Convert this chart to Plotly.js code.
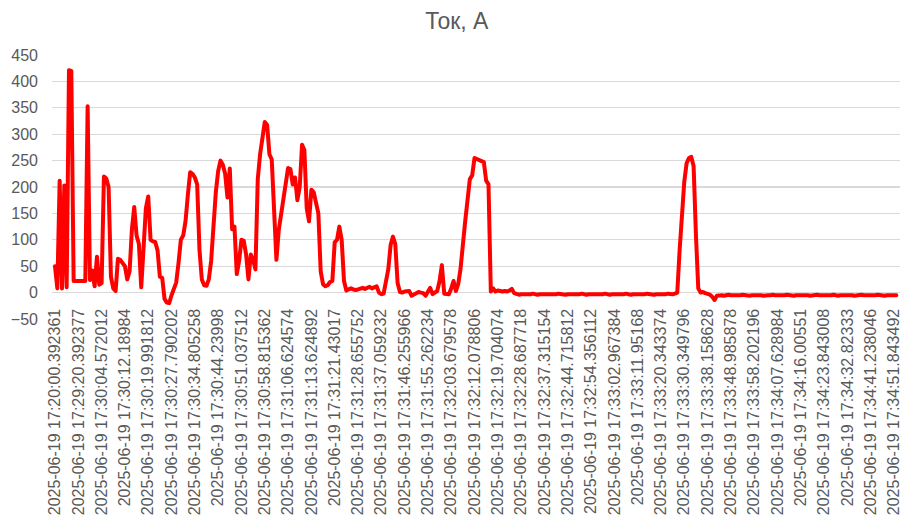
<!DOCTYPE html>
<html>
<head>
<meta charset="utf-8">
<script src="https://cdn.plot.ly/plotly-3.0.1.min.js"></script>
<style>html,body{margin:0;padding:0;background:#fff;}#chart{width:901px;height:516px;}</style>
</head>
<body>
<div id="chart"></div>
<script>
// Chart title
const chartTitle = "Ток, А";

// Category labels shown on the x axis (every 10th sample)
const tickLabels = [
  "2025-06-19 17:20:00.392361","2025-06-19 17:29:20.392377","2025-06-19 17:30:04.572012",
  "2025-06-19 17:30:12.18984","2025-06-19 17:30:19.991812","2025-06-19 17:30:27.790202",
  "2025-06-19 17:30:34.805258","2025-06-19 17:30:44.23998","2025-06-19 17:30:51.037512",
  "2025-06-19 17:30:58.815362","2025-06-19 17:31:06.624574","2025-06-19 17:31:13.624892",
  "2025-06-19 17:31:21.43017","2025-06-19 17:31:28.655752","2025-06-19 17:31:37.059232",
  "2025-06-19 17:31:46.255966","2025-06-19 17:31:55.262234","2025-06-19 17:32:03.679578",
  "2025-06-19 17:32:12.078806","2025-06-19 17:32:19.704074","2025-06-19 17:32:28.687718",
  "2025-06-19 17:32:37.315154","2025-06-19 17:32:44.715812","2025-06-19 17:32:54.356112",
  "2025-06-19 17:33:02.967384","2025-06-19 17:33:11.95168","2025-06-19 17:33:20.343374",
  "2025-06-19 17:33:30.349796","2025-06-19 17:33:38.158628","2025-06-19 17:33:48.985878",
  "2025-06-19 17:33:58.202196","2025-06-19 17:34:07.628984","2025-06-19 17:34:16.00551",
  "2025-06-19 17:34:23.843008","2025-06-19 17:34:32.82333","2025-06-19 17:34:41.238046",
  "2025-06-19 17:34:51.843492"
];
const labelEvery = 10;

// Current, A (one value per sample)
const currentA = [
  50,8,212,8,203,10,421,420,22,22,
  22,22,22,22,353,24,42,12,68,15,
  18,220,216,200,30,8,3,64,62,57,
  50,25,40,120,162,108,92,10,80,160,
  182,100,97,96,80,30,28,-12,-19,-20,
  -5,10,19,56,100,108,135,185,228,225,
  218,205,80,25,14,13,25,60,140,190,
  230,250,242,225,180,235,120,125,35,60,
  100,98,72,25,72,62,44,215,262,300,
  323,318,262,252,140,62,118,148,180,208,
  236,234,205,218,175,200,280,270,160,135,
  195,190,168,150,40,16,12,14,20,22,
  95,100,125,100,22,4,6,8,6,5,
  6,7,9,7,10,11,8,10,12,0,
  -3,-2,20,44,90,106,92,18,1,0,
  2,2,3,-6,-3,-2,1,0,-1,-6,
  2,9,-3,0,3,22,52,-2,-3,-3,
  8,22,3,16,45,100,135,175,215,222,
  255,253,250,249,247,212,205,2,8,2,
  4,3,2,3,2,4,7,-1,
  -3,-4,-3,-3,-4,-3,-3,-2,-3,-4,
  -3,-3,-4,-3,-3,-3,-4,-3,-2,-3,
  -3,-4,-3,-3,-3,-4,-3,-3,-2,-3,
  -4,-3,-3,-3,-4,-3,-3,-3,-2,-3,
  -4,-3,-3,-4,-3,-3,-3,-2,-3,-4,
  -3,-3,-3,-4,-3,-3,-2,-3,-3,-4,
  -3,-3,-3,-4,-3,-2,-3,-3,-2,
  0,80,160,210,245,255,257,240,110,8,
  0,1,-1,-2,-4,-8,-14,-6,
  -5,-5,-6,-5,-4,-5,-5,-6,-5,-5,
  -4,-5,-5,-6,-5,-5,-5,-4,-5,-6,
  -5,-5,-5,-4,-5,-5,-6,-5,-5,-4,
  -5,-5,-6,-5,-5,-5,-4,-5,-5,-6,
  -5,-5,-4,-5,-5,-6,-5,-5,-5,-4,
  -5,-6,-5,-5,-4,-5,-5,-5,-6,-5,
  -5,-4,-5,-5,-6,-5,-5,-5,-4,-5,
  -5,-6,-5,-5,-4,-5,-5
];

const xIdx = currentA.map((_, i) => i);
const tickVals = tickLabels.map((_, i) => i * labelEvery);

const font = {family: "Liberation Sans, Arial, sans-serif", size: 16, color: "#595959"};

Plotly.newPlot("chart", [{
  type: "scatter",
  mode: "lines",
  x: xIdx,
  y: currentA,
  line: {color: "#ff0000", width: 4},
  hoverinfo: "skip"
}], {
  width: 901,
  height: 516,
  margin: {l: 52, r: 1, t: 55, b: 197, pad: 0},
  paper_bgcolor: "#ffffff",
  plot_bgcolor: "#ffffff",
  showlegend: false,
  title: {
    text: chartTitle,
    font: {family: "Liberation Sans, Arial, sans-serif", size: 23, color: "#595959"},
    x: 0.507, xref: "container", xanchor: "center",
    y: 0.96, yref: "container", yanchor: "middle"
  },
  xaxis: {
    type: "linear",
    range: [-1.287, 362.56],
    tickmode: "array",
    tickvals: tickVals,
    ticktext: tickLabels,
    tickangle: -90,
    tickfont: font,
    showgrid: false,
    zeroline: false,
    showline: false,
    ticks: "",
    anchor: "free",
    position: 0.1,
    ticklabelstandoff: 12,
    ticklabeloverflow: "allow",
    automargin: false
  },
  yaxis: {
    range: [-50, 450],
    dtick: 50,
    tick0: 0,
    tickfont: font,
    gridcolor: "#d9d9d9",
    gridwidth: 1.3,
    zeroline: false,
    showline: false,
    ticks: "",
    ticklabelstandoff: 13,
    automargin: false
  }
}, {staticPlot: true}).then(() => {
  document.querySelectorAll(".scatterlayer path.js-line").forEach(p => {
    p.style.strokeLinejoin = "round";
    p.style.strokeLinecap = "round";
  });
});
</script>
</body>
</html>
